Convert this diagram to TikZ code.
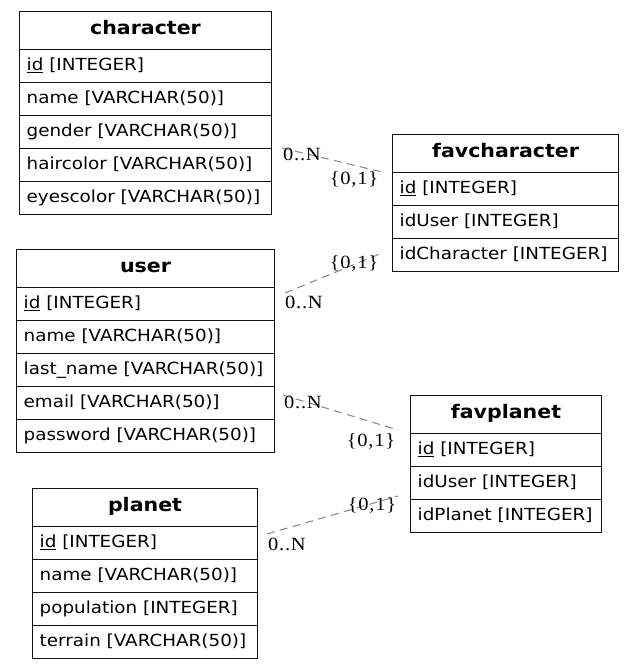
\documentclass[tikz,border=0pt]{standalone}
\usepackage{fontspec}
\newfontfamily\rowfont[FakeStretch=1.1]{DejaVu Sans}
\newfontfamily\hdrfont[FakeStretch=1.1]{DejaVu Sans}
\newfontfamily\cardfont[FakeStretch=1.1,LetterSpace=4]{Liberation Serif}
\definecolor{relgray}{HTML}{8C8C8C}
\definecolor{tabline}{HTML}{111111}
\tikzset{
  hdrcell/.style={draw=tabline, line width=0.9pt, minimum height={38*0.75pt}, inner sep=0pt, outer sep=0pt,
    font=\hdrfont\bfseries\fontsize{14pt}{16pt}\selectfont, text height=0.76em, text depth=0.2em},
  rowcell/.style={draw=tabline, line width=0.9pt, minimum height={33*0.75pt}, inner sep=0pt, outer sep=0pt},
  rowtxt/.style={inner sep=0pt, font=\rowfont\fontsize{12.5pt}{14pt}\selectfont, text height=0.88em, text depth=0.2em},
  relline/.style={draw=relgray, line width=0.8pt, dash pattern=on 6pt off 4pt},
  card/.style={inner sep=0pt, font=\cardfont\fontsize{14pt}{16pt}\selectfont}
}
\newcommand{\ertab}[5]{%
  \node[hdrcell, minimum width={#4*0.75pt}, anchor=north west] (#1) at (#2,#3) {#1};
  \foreach \r [count=\i] in {#5} {
    \node[rowcell, minimum width={#4*0.75pt}, anchor=north west] (#1-\i) at ({#2},{#3+38+(\i-1)*33}) {};
    \node[rowtxt, anchor=west] (#1-\i-t) at ([xshift=5.2pt]#1-\i.west) {\r};
  }
}
\begin{document}
\begin{tikzpicture}[x=0.75pt,y=-0.75pt]
\useasboundingbox[fill=white] (0,0) rectangle (633,670);

\ertab{character}{19.5}{11.5}{252}{\underline{id} [INTEGER], name [VARCHAR(50)], gender [VARCHAR(50)], haircolor [VARCHAR(50)], eyescolor [VARCHAR(50)]}
\ertab{favcharacter}{392.5}{134.5}{226}{\underline{id} [INTEGER], idUser [INTEGER], idCharacter [INTEGER]}
\ertab{user}{16.5}{249.5}{258}{\underline{id} [INTEGER], name [VARCHAR(50)], last\_name [VARCHAR(50)], email [VARCHAR(50)], password [VARCHAR(50)]}
\ertab{favplanet}{410.5}{395.5}{191}{\underline{id} [INTEGER], idUser [INTEGER], idPlanet [INTEGER]}
\ertab{planet}{32.5}{488.5}{225}{\underline{id} [INTEGER], name [VARCHAR(50)], population [INTEGER], terrain [VARCHAR(50)]}

\coordinate (e1a) at (282,148);
\coordinate (e1b) at (382,172);
\coordinate (e2a) at (285,293);
\coordinate (e2b) at (382,253);
\coordinate (e3a) at (283,395);
\coordinate (e3b) at (398,430);
\coordinate (e4a) at (267,534);
\coordinate (e4b) at (398,496);

\draw[relline] (e1a) -- (e1b);
\draw[relline] (e2a) -- (e2b);
\draw[relline] (e3a) -- (e3b);
\draw[relline] (e4a) -- (e4b);

\node[card, anchor=base] (l1a) at (302,161) {0..N};
\node[card, anchor=base] (l1b) at (354,185) {\{0,1\}};
\node[card, anchor=base] (l2a) at (354,268) {\{0,1\}};
\node[card, anchor=base] (l2b) at (304,308) {0..N};
\node[card, anchor=base] (l3a) at (303,408) {0..N};
\node[card, anchor=base] (l3b) at (371,446) {\{0,1\}};
\node[card, anchor=base] (l4a) at (372,510) {\{0,1\}};
\node[card, anchor=base] (l4b) at (287,550) {0..N};
\end{tikzpicture}
\end{document}
